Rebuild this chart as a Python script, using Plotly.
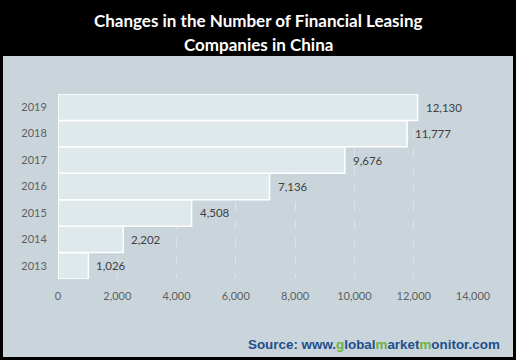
import plotly.graph_objects as go

years = [2013, 2014, 2015, 2016, 2017, 2018, 2019]
counts = [1026, 2202, 4508, 7136, 9676, 11777, 12130]
x_ticks = [0, 2000, 4000, 6000, 8000, 10000, 12000, 14000]
x_tick_labels = ["0", "2,000", "4,000", "6,000", "8,000", "10,000", "12,000", "14,000"]
year_labels = ["2013", "2014", "2015", "2016", "2017", "2018", "2019"]

W, H = 516, 360
L, R, T, B = 58, 43, 94, 81
pw, ph = W - L - R, H - T - B

def fx(px):
    return (px - L) / pw

def fy(py):
    return 1 - (py - T) / ph

PANEL = "#C9D5DB"
BAR = "#DFE8EB"
TXT = "#5F5F5F"
FONT = "Lato, 'Open Sans', sans-serif"

fig = go.Figure()
fig.add_trace(go.Bar(
    x=counts, y=years, orientation="h", width=1,
    marker=dict(color=BAR, line=dict(color="white", width=1.5)),
    hoverinfo="skip",
))

annotations = []
for yr, v in zip(years, counts):
    annotations.append(dict(
        x=v, y=yr, xref="x", yref="y", text=f"{v:,}", showarrow=False,
        xanchor="left", yanchor="middle", xshift=6,
        font=dict(family=FONT, size=11.5, color="#404040"),
    ))

annotations.append(dict(
    x=fx(258), y=fy(20), xref="paper", yref="paper", showarrow=False,
    text="<b>Changes in the Number of Financial Leasing</b>",
    xanchor="center", yanchor="middle",
    font=dict(family=FONT, size=17, color="white"),
))
annotations.append(dict(
    x=fx(258), y=fy(44), xref="paper", yref="paper", showarrow=False,
    text="<b>Companies in China</b>",
    xanchor="center", yanchor="middle",
    font=dict(family=FONT, size=17, color="white"),
))
blue = "#1F4E8C"
green = "#6DB33F"
src = (f"<b><span style='color:{blue}'>Source: www.</span>"
       f"<span style='color:{green}'>g</span>"
       f"<span style='color:{blue}'>lobal</span>"
       f"<span style='color:{green}'>m</span>"
       f"<span style='color:{blue}'>arket</span>"
       f"<span style='color:{green}'>m</span>"
       f"<span style='color:{blue}'>onitor.com</span></b>")
annotations.append(dict(
    x=fx(502), y=fy(344), xref="paper", yref="paper", showarrow=False,
    text=src, xanchor="right", yanchor="middle",
    font=dict(family="Liberation Sans, Arial, sans-serif", size=13.4, color=blue),
))

fig.update_layout(
    width=W, height=H,
    margin=dict(l=L, r=R, t=T, b=B, pad=0),
    paper_bgcolor="black",
    plot_bgcolor="rgba(0,0,0,0)",
    showlegend=False,
    annotations=annotations,
    shapes=[dict(
        type="rect", xref="paper", yref="paper",
        x0=fx(3), x1=fx(513), y0=fy(357), y1=fy(56),
        fillcolor=PANEL, line=dict(width=0), layer="below",
    )],
    xaxis=dict(
        range=[0, 14000], tickvals=x_ticks, ticktext=x_tick_labels,
        showgrid=True, gridcolor="#DCE2E5", griddash="dash", gridwidth=1,
        zeroline=False, showline=False, automargin=False,
        ticks="outside", ticklen=7, tickcolor="rgba(0,0,0,0)",
        tickfont=dict(family=FONT, size=11, color=TXT),
    ),
    yaxis=dict(
        range=[2012.5, 2019.5], tickvals=years, ticktext=year_labels,
        showgrid=False, zeroline=False, showline=False, automargin=False,
        ticks="outside", ticklen=8, tickcolor="rgba(0,0,0,0)",
        tickfont=dict(family=FONT, size=11, color=TXT),
    ),
)

fig.write_html("out.html", config={"displayModeBar": False},
               post_script="document.body.style.margin='0';")
